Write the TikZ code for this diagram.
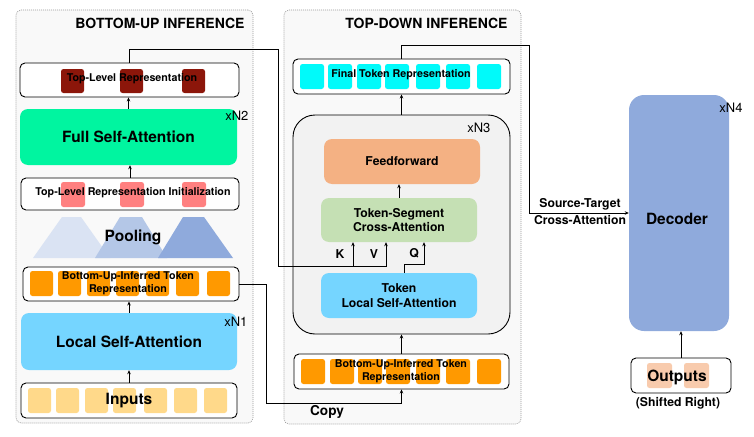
\documentclass[tikz,border=0pt]{standalone}
\usepackage{fontspec}
\setmainfont{TeX Gyre Heros}
\usetikzlibrary{arrows.meta}

\definecolor{panelgray}{RGB}{249,249,249}
\definecolor{blockgray}{RGB}{242,242,242}
\definecolor{fsagreen}{RGB}{0,245,160}
\definecolor{lsablue}{RGB}{117,213,255}
\definecolor{tlrred}{RGB}{140,22,10}
\definecolor{initpink}{RGB}{255,128,128}
\definecolor{tokorange}{RGB}{255,153,0}
\definecolor{inpyellow}{RGB}{255,217,138}
\definecolor{fincyan}{RGB}{0,250,250}
\definecolor{ffpeach}{RGB}{244,177,131}
\definecolor{tscgreen}{RGB}{197,224,180}
\definecolor{decblue}{RGB}{143,170,220}
\definecolor{outpeach}{RGB}{248,203,173}
\definecolor{poolone}{RGB}{218,227,243}
\definecolor{pooltwo}{RGB}{180,199,231}
\definecolor{poolthree}{RGB}{143,170,220}

\begin{document}
\begin{tikzpicture}[x=1pt,y=-1pt,
  panel/.style={draw=gray!80, dash pattern=on 1pt off 1pt, line width=0.6pt, rounded corners=5pt, fill=panelgray, inner sep=0pt},
  tokbox/.style={draw=black, line width=0.9pt, rounded corners=5pt, fill=white, inner sep=0pt},
  block/.style={rounded corners=8pt, inner sep=0pt, align=center},
  tok/.style={rounded corners=2.5pt},
  bigtxt/.style={font=\fontsize{15.5}{18}\selectfont\bfseries},
  midtxt/.style={font=\fontsize{12.2}{14.5}\selectfont\bfseries, align=center},
  smalltxt/.style={font=\fontsize{10.7}{13}\selectfont\bfseries, align=center},
  headtxt/.style={font=\fontsize{14}{16}\selectfont\bfseries, anchor=east},
  reptxt/.style={font=\fontsize{13}{15}\selectfont, anchor=east},
  arr/.style={-{Stealth[length=4pt,width=3.5pt]}, line width=0.8pt},
]
  \useasboundingbox (0,0) rectangle (754,436);

  % Draw the two panels
  \node[panel, minimum width=237, minimum height=413] (bu) at (134.5,216.5) {};
  \node[headtxt] (bu-title) at (248,23) {BOTTOM-UP INFERENCE};
  \node[panel, minimum width=237, minimum height=414] (td) at (402.5,217) {};
  \node[headtxt] (td-title) at (511,23) {TOP-DOWN INFERENCE};

  % Bottom-up: top-level representation
  \node[tokbox, minimum width=219, minimum height=34] (tlr) at (129.5,80) {};
  \foreach \x in {61,120,182}
    \fill[tlrred, tok] (\x,69) rectangle ++(23,24);
  \node[smalltxt] (tlr-text) at (132,79) {Top-Level Representation};

  \node[block, fill=fsagreen, minimum width=217, minimum height=56, bigtxt] (fsa) at (128.5,137) {Full Self-Attention};
  \node[reptxt] (n2) at (252,116) {xN2};

  % Bottom-up: initialization
  \node[tokbox, minimum width=218, minimum height=32] (tlri) at (130,194) {};
  \foreach \x in {61,120,182}
    \fill[initpink, tok] (\x,182) rectangle ++(24,25);
  \node[smalltxt] (tlri-text) at (133,193) {Top-Level Representation Initialization};

  % Pooling
  \fill[poolone] (33,258) -- (62,217) -- (81,217) -- (110,258) -- cycle;
  \fill[pooltwo] (95,258) -- (120,217) -- (142,217) -- (167,258) -- cycle;
  \fill[poolthree] (158,258) -- (183,217) -- (204,217) -- (233,258) -- cycle;
  \node[bigtxt] (pool) at (133,237) {Pooling};

  % Bottom-up: inferred tokens
  \node[tokbox, minimum width=216, minimum height=34] (buitr) at (131,284) {};
  \foreach \x in {30,58,87,116,146,176,207}
    \fill[tokorange, tok] (\x,271) rectangle ++(23,25);
  \node[smalltxt] (buitr-text) at (128,283) {Bottom-Up-Inferred Token\\Representation};

  \node[block, fill=lsablue, minimum width=216, minimum height=57, bigtxt] (lsa) at (129,341.5) {Local Self-Attention};
  \node[reptxt] (n1) at (251,322) {xN1};

  % Inputs
  \node[tokbox, minimum width=216, minimum height=35] (inp) at (129,400.5) {};
  \foreach \x in {28,56,85,113,144,174,204}
    \fill[inpyellow, tok] (\x,388) rectangle ++(23,25);
  \node[bigtxt] (inp-text) at (129,401) {Inputs};

  % Top-down: final tokens
  \node[tokbox, minimum width=217, minimum height=35] (ftr) at (401.5,76.5) {};
  \foreach \x in {300,328,357,385,416,446,477}
    \fill[fincyan, tok] (\x,64) rectangle ++(24,25);
  \node[smalltxt] (ftr-text) at (401,75) {Final Token Representation};

  % Top-down: repeated block
  \node[draw=black, line width=0.9pt, rounded corners=22pt, fill=blockgray, minimum width=217, minimum height=219] (n3) at (401.5,224.5) {};
  \node[reptxt] (n3-rep) at (494,128) {xN3};
  \node[block, fill=ffpeach, minimum width=156, minimum height=45, midtxt] (ff) at (402,161.5) {Feedforward};
  \node[block, fill=tscgreen, minimum width=156, minimum height=44, midtxt] (tsca) at (399,220) {Token-Segment\\Cross-Attention};
  \node[block, fill=lsablue, minimum width=156, minimum height=45, midtxt] (tlsa) at (399,295.5) {Token\\Local Self-Attention};

  % Top-down: copied tokens
  \node[tokbox, minimum width=215, minimum height=35] (buitr2) at (401.5,371.5) {};
  \foreach \x in {301,330,358,386,416,446,477}
    \fill[tokorange, tok] (\x,359) rectangle ++(24,25);
  \node[smalltxt] (buitr2-text) at (401,371) {Bottom-Up-Inferred Token\\Representation};
  \node[midtxt, font=\fontsize{13.6}{16}\selectfont\bfseries] (copy) at (327,412) {Copy};

  % Decoder
  \node[block, rounded corners=15pt, fill=decblue, minimum width=100, minimum height=236] (dec) at (679,213) {};
  \node[bigtxt] (dec-text) at (677,219) {Decoder};
  \node[reptxt] (n4) at (746,108) {xN4};
  \node[tokbox, minimum width=100, minimum height=35] (outp) at (681,375.5) {};
  \foreach \x in {647,684}
    \fill[outpeach, tok] (\x,363) rectangle ++(25,25);
  \node[bigtxt] (outp-text) at (677,377) {Outputs};
  \node[midtxt] (shift) at (678,403) {(Shifted Right)};

  % Arrows inside the panels
  \draw[arr] (fsa.north) -- (fsa.north |- tlr.south);
  \draw[arr] (tlri.north) -- (tlri.north |- fsa.south);
  \draw[arr] (lsa.north) -- (lsa.north |- buitr.south);
  \draw[arr] (inp.north) -- (inp.north |- lsa.south);
  \draw[arr] (n3.north) -- (n3.north |- ftr.south);
  \draw[arr] (tsca.north) -- (tsca.north |- ff.south);
  \draw[arr] (buitr2.north) -- (buitr2.north |- n3.south);
  \draw[arr] (outp.north) -- (outp.north |- dec.south);

  % K, V and Q
  \coordinate (k-in) at ([xshift=-46pt]tsca.south);
  \coordinate (v-in) at ([xshift=-13pt]tsca.south);
  \coordinate (q-in) at ([xshift=25pt]tsca.south);
  \coordinate (kv-bus) at (278,266);
  \draw[arr] (tlr.north) -- ++(0,-13) -| (kv-bus) -| (v-in);
  \draw[arr] (k-in |- kv-bus) -- (k-in);
  \draw[arr] ([xshift=5pt]tlsa.north) -- ++(0,-8) -| (q-in);
  \node[midtxt] (k-lab) at (340,254) {K};
  \node[midtxt] (v-lab) at (374,254) {V};
  \node[midtxt] (q-lab) at (414,253) {Q};

  % Copy and cross-attention
  \draw[arr] (buitr.east) -- ++(27,0) |- ([yshift=-14pt]buitr2.south) -- (buitr2.south);
  \draw[arr] (ftr.north) -- ++(0,-13) -| ([xshift=-99pt]dec.west) -- (dec.west);
  \node[midtxt] (st-top) at (580,204) {Source-Target};
  \node[midtxt] (st-bot) at (580,220) {Cross-Attention};
\end{tikzpicture}
\end{document}
